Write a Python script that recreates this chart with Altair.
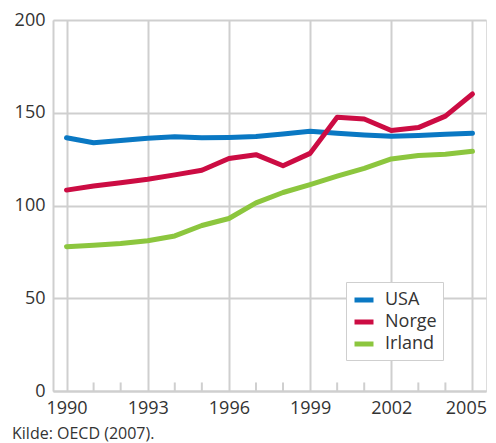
import altair as alt
import pandas as pd

years = list(range(1990, 2006))
usa = [136.5, 133.8, 135.0, 136.2, 137.0, 136.5, 136.7, 137.2, 138.6, 140.0, 139.0, 138.0, 137.3, 137.8, 138.4, 139.0]
norge = [108.3, 110.5, 112.3, 114.2, 116.5, 119.0, 125.3, 127.4, 121.4, 128.1, 147.6, 146.6, 140.4, 142.0, 148.2, 160.1]
irland = [77.8, 78.6, 79.5, 81.0, 83.6, 89.2, 93.0, 101.4, 107.0, 111.3, 115.8, 120.0, 125.1, 127.0, 127.6, 129.2]
series = ["USA", "Norge", "Irland"]
colors = ["#0a78c3", "#cc0c43", "#8cc63e"]
major_years = [1990, 1993, 1996, 1999, 2002, 2005]
minor_years = [y for y in years if y not in major_years]
source_text = "Kilde: OECD (2007)."

rows = []
for name, vals in zip(series, [usa, norge, irland]):
    for yr, v in zip(years, vals):
        rows.append({"year": yr, "value": v, "series": name})
df = pd.DataFrame(rows)
ticks_df = pd.DataFrame({"year": minor_years, "y0": [0] * len(minor_years), "y1": [4.6] * len(minor_years)})

FONT = "Open Sans"
GRID = "#cfcfcf"
W, H = 433, 371

xscale = alt.Scale(domain=[1989.5, 2005.5], nice=False, zero=False)
yscale = alt.Scale(domain=[0, 200], nice=False)

lines = alt.Chart(df).mark_line(strokeWidth=5, strokeCap="round", strokeJoin="round").encode(
    x=alt.X("year:Q", scale=xscale, title=None,
            axis=alt.Axis(values=major_years, format="d", ticks=False, tickSize=0,
                          labelPadding=8, labelFontSize=18, labelFont=FONT, labelColor="#333333",
                          labelAlign=alt.expr("datum.value == 2005 ? 'right' : 'center'"),
                          labelOffset=alt.expr("datum.value == 2005 ? 14 : 0"),
                          labelBound=False, labelOverlap=False,
                          grid=True, gridColor=GRID, gridWidth=2,
                          domainColor=GRID, domainWidth=2)),
    y=alt.Y("value:Q", scale=yscale, title=None,
            axis=alt.Axis(values=[0, 50, 100, 150, 200], ticks=False, tickSize=0,
                          labelPadding=8, labelFontSize=18, labelFont=FONT, labelColor="#333333",
                          grid=True, gridColor=GRID, gridWidth=2,
                          domainColor=GRID, domainWidth=2)),
    color=alt.Color("series:N", scale=alt.Scale(domain=series, range=colors), sort=series,
                    legend=alt.Legend(title=None, orient="none", legendX=293, legendY=262,
                                      symbolType="stroke", symbolStrokeWidth=5, symbolSize=361,
                                      labelFontSize=18, labelFont=FONT, labelColor="#333333",
                                      strokeColor=GRID, fillColor="white", padding=6,
                                      rowPadding=-6, labelOffset=9)),
    order=alt.Order("year:Q"),
)

minor = alt.Chart(ticks_df).mark_rule(color=GRID, strokeWidth=2).encode(
    x=alt.X("year:Q", scale=xscale),
    y=alt.Y("y0:Q", scale=yscale),
    y2="y1:Q",
)

chart = alt.layer(minor, lines).properties(
    width=W, height=H,
    title=alt.TitleParams(source_text, orient="bottom", anchor="start", frame="group",
                          dx=-41, offset=9, fontSize=16, font=FONT, fontWeight="normal",
                          color="#333333"),
    autosize=alt.AutoSizeParams(type="none"),
    padding={"left": 45, "top": 12, "right": 2, "bottom": 52},
).configure_view(stroke=None).configure(background="white")

chart.save("out.html", embed_options={"renderer": "svg", "actions": False})
